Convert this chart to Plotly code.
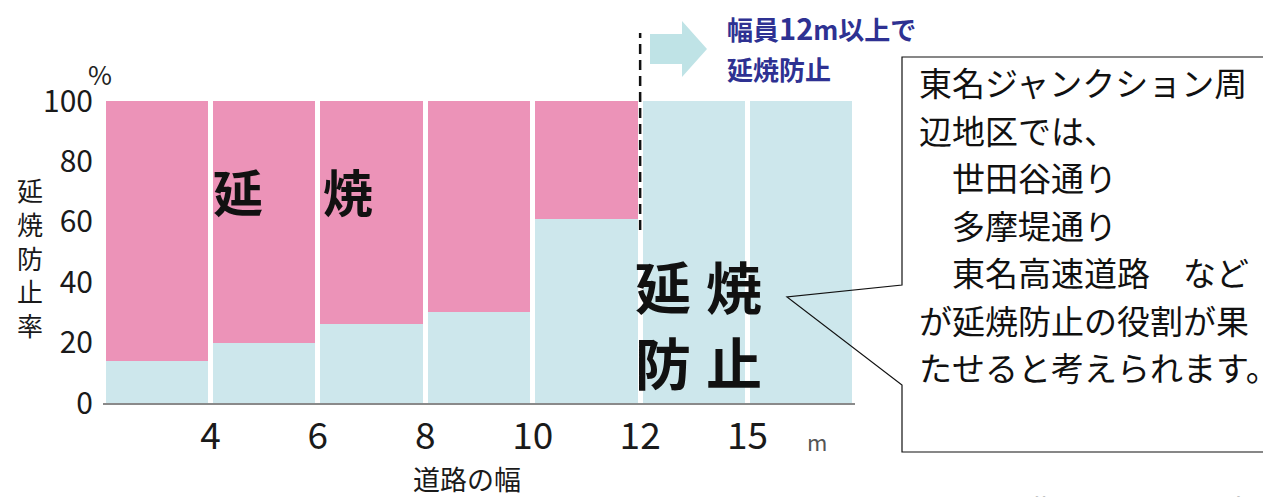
import plotly.graph_objects as go

# ---- data ----
road_width_labels = ["4", "6", "8", "10", "12", "15"]   # boundaries between bars (m)
prevention_rate = [14, 20, 26, 30, 61, 100, 100]       # 延焼防止率 (%)
spread_rate = [100 - v for v in prevention_rate]       # 延焼 (%)
bar_pos = [i + 0.5 for i in range(len(prevention_rate))]
tick_pos = [i + 1 for i in range(len(road_width_labels))]
y_ticks = [0, 20, 40, 60, 80, 100]

BLUE = "#CDE7EC"
PINK = "#EC93B8"
NAVY = "#2E3192"
FONT = "Noto Sans CJK JP"

W, H = 1263, 497
L, R, T, B = 103, 855, 101, 403


def px(x):
    return (x - L) / (R - L)


def py(y):
    return (B - y) / (B - T)


fig = go.Figure()
fig.add_trace(go.Bar(x=bar_pos, y=prevention_rate, marker=dict(color=BLUE, line=dict(width=0)),
                     name="延焼防止", hoverinfo="skip"))
fig.add_trace(go.Bar(x=bar_pos, y=spread_rate, marker=dict(color=PINK, line=dict(width=0)),
                     name="延焼", hoverinfo="skip"))

fig.update_layout(
    width=W, height=H,
    margin=dict(l=L, r=W - R, t=T, b=H - B, pad=0),
    barmode="stack", bargap=0.047,
    plot_bgcolor="white", paper_bgcolor="white",
    showlegend=False,
    font=dict(family=FONT, color="#222"),
    xaxis=dict(range=[0, len(prevention_rate)], tickmode="array", tickvals=tick_pos,
               ticktext=road_width_labels, showgrid=False, zeroline=False,
               showline=True, linecolor="#8a8a8a", linewidth=1.5, ticks="",
               ticklabelstandoff=0, tickfont=dict(size=37, color="#1a1a1a", family=FONT)),
    yaxis=dict(range=[0, 100], tickmode="array", tickvals=y_ticks, showgrid=False,
               zeroline=False, showline=False, ticks="", ticklabelstandoff=9,
               tickfont=dict(size=30, color="#1a1a1a", family=FONT)),
)

ann = []


def text(x, y, s, size, color="#222", bold=False, xanchor="center", yanchor="middle"):
    ann.append(dict(x=px(x), y=py(y), xref="paper", yref="paper", text=s, showarrow=False,
                    xanchor=xanchor, yanchor=yanchor,
                    font=dict(size=size, color=color, family=FONT,
                              weight="bold" if bold else "normal")))


# axis labels
text(100, 73, "%", 26)
text(30, 257, "<br>".join("延焼防止率"), 26, color="#1a1a1a")
text(467, 478, "道路の幅", 27, color="#1a1a1a")
text(817, 441, "m", 22, color="#555")

# big labels on bars
text(238, 190, "延", 50, color="#111", bold=True)
text(348, 190, "焼", 50, color="#111", bold=True)
text(663, 284, "延", 56, color="#111", bold=True)
text(734, 284, "焼", 56, color="#111", bold=True)
text(663, 360, "防", 56, color="#111", bold=True)
text(734, 360, "止", 56, color="#111", bold=True)

# blue note
text(725, 27, "幅員<span style='font-size:29px'>12</span>m以上で", 26, color=NAVY, bold=True,
     xanchor="left")
text(725, 68, "延焼防止", 26, color=NAVY, bold=True, xanchor="left")

# callout box text
box_lines = ["東名ジャンクション周", "辺地区では、", "　世田谷通り", "　多摩堤通り",
             "　東名高速道路　など", "が延焼防止の役割が果", "たせると考えられます。"]
for i, s in enumerate(box_lines):
    text(917, 82 + i * 47.5, s, 33, color="#111", xanchor="left")

# source (cut off at bottom)
text(956, 485, "【出典】国土交通省資料", 33, color="#111", xanchor="left", yanchor="top")

fig.update_layout(annotations=ann)

shapes = []
# dashed line at 12 m boundary
shapes.append(dict(type="line", xref="paper", yref="paper",
                   x0=5 / len(prevention_rate), x1=5 / len(prevention_rate),
                   y0=py(230), y1=py(33), line=dict(color="#111", width=2.5, dash="10px,6px")))

# arrow
arrow_pts = [(650, 34), (682, 34), (682, 21), (707, 49), (682, 77), (682, 64), (650, 64)]
path = "M " + " L ".join(f"{px(x):.5f},{py(y):.5f}" for x, y in arrow_pts) + " Z"
shapes.append(dict(type="path", xref="paper", yref="paper", path=path,
                   fillcolor="#BFE3E6", line=dict(width=0)))

# callout box with pointer
box_pts = [(902, 285), (902, 57), (1280, 57), (1280, 452), (902, 452), (902, 385), (787, 297)]
path = "M " + " L ".join(f"{px(x):.5f},{py(y):.5f}" for x, y in box_pts) + " Z"
shapes.append(dict(type="path", xref="paper", yref="paper", path=path,
                   fillcolor="rgba(0,0,0,0)", line=dict(color="#111", width=1.2)))

fig.update_layout(shapes=shapes)
fig.write_html("out.html")
